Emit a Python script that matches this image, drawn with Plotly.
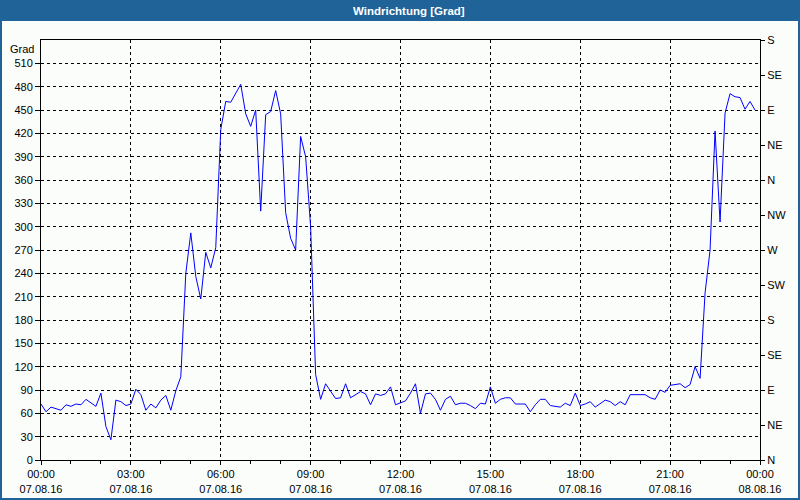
import pandas as pd
import plotly.graph_objects as go

# ---- data (wind direction in degrees, 10-minute samples, 07.08.16) ----
start_time = "2016-08-07 00:00"
end_time = "2016-08-08 00:00"

dir_00_06 = [72, 62, 68, 66, 64, 71, 69, 72, 71, 78, 73, 69, 86, 43, 26, 77, 75, 70,
             72, 91, 84, 64, 72, 67, 77, 83, 64, 89, 107, 240, 292, 236, 207, 267, 247, 273]
dir_06_12 = [425, 461, 460, 471, 483, 445, 429, 450, 320, 444, 448, 475, 445, 318, 285, 270, 416, 390,
             300, 110, 78, 98, 88, 79, 80, 98, 80, 84, 88, 85, 71, 85, 83, 85, 94, 71]
dir_12_18 = [73, 76, 86, 98, 60, 85, 86, 78, 64, 78, 82, 71, 73, 73, 70, 66, 73, 72,
             94, 73, 78, 80, 80, 72, 72, 72, 62, 71, 78, 78, 70, 69, 68, 73, 70, 86]
dir_18_24 = [70, 72, 75, 68, 73, 77, 75, 70, 75, 71, 84, 84, 84, 84, 80, 78, 90, 87,
             96, 97, 98, 93, 97, 120, 105, 215, 270, 423, 306, 446, 471, 467, 466, 451, 461, 450]

values = dir_00_06 + dir_06_12 + dir_12_18 + dir_18_24
times = pd.date_range(start_time, periods=len(values), freq="10min")

left_ticks = [0, 30, 60, 90, 120, 150, 180, 210, 240, 270, 300, 330, 360, 390, 420, 450, 480, 510]
right_ticks = [0, 45, 90, 135, 180, 225, 270, 315, 360, 405, 450, 495, 540]
right_labels = ["N", "NE", "E", "SE", "S", "SW", "W", "NW", "N", "NE", "E", "SE", "S"]
title_text = "Windrichtung [Grad]"
unit_text = "Grad"

# ---- styling ----
BG = "#FBFDFB"
BAR = "#1F6398"
FONT = "Liberation Sans, Arial, sans-serif"
L, R, T, B = 41, 40, 40, 40
W, H = 800, 500
pw, ph = W - L - R, H - T - B

def px_x(p):
    return (p - L) / pw

def px_y(p):
    return (H - B - p) / ph

fig = go.Figure()
fig.add_trace(go.Scatter(x=times, y=values, mode="lines",
                         line=dict(color="#0000FF", width=1),
                         showlegend=False, hoverinfo="skip"))
fig.add_trace(go.Scatter(x=times, y=values, mode="lines", yaxis="y2",
                         line=dict(color="rgba(0,0,0,0)", width=0),
                         showlegend=False, hoverinfo="skip"))

grid = dict(showgrid=True, gridcolor="black", gridwidth=1, griddash="3px,3px")

fig.update_layout(
    width=W, height=H,
    margin=dict(l=L, r=R, t=T, b=B, pad=0, autoexpand=False),
    paper_bgcolor=BG, plot_bgcolor=BG,
    font=dict(family=FONT, size=11, color="black"),
    xaxis=dict(
        type="date", range=[start_time, end_time], automargin=False,
        dtick=3 * 3600 * 1000, tick0=start_time,
        tickformat="%H:%M<br>%d.%m.%y",
        ticks="outside", ticklen=4, tickcolor="black",
        minor=dict(dtick=3600 * 1000, ticks="outside", ticklen=3, tickcolor="black", showgrid=False),
        showline=True, linecolor="black", linewidth=1, mirror=True,
        zeroline=False, **grid,
    ),
    yaxis=dict(
        range=[0, 540], tickvals=left_ticks, automargin=False,
        ticks="outside", ticklen=5, tickcolor="black",
        showline=True, linecolor="black", linewidth=1, mirror=True,
        zeroline=False, **grid,
    ),
    yaxis2=dict(
        range=[0, 540], tickvals=right_ticks, ticktext=right_labels,
        overlaying="y", side="right", automargin=False,
        ticks="outside", ticklen=4, tickcolor="black",
        showline=True, linecolor="black", linewidth=1,
        showgrid=False, zeroline=False,
    ),
    shapes=[
        dict(type="rect", xref="paper", yref="paper",
             x0=px_x(0), x1=px_x(W), y0=px_y(21), y1=px_y(0),
             fillcolor=BAR, line=dict(width=0), layer="below"),
        dict(type="rect", xref="paper", yref="paper",
             x0=px_x(1), x1=px_x(W - 1), y0=px_y(H - 1), y1=px_y(1),
             fillcolor="rgba(0,0,0,0)", line=dict(color=BAR, width=2)),
    ],
    annotations=[
        dict(text="<b>" + title_text + "</b>", xref="paper", yref="paper",
             x=px_x(409), y=px_y(10.5), xanchor="center", yanchor="middle",
             showarrow=False, font=dict(family=FONT, size=11.5, color="white")),
        dict(text=unit_text, xref="paper", yref="paper",
             x=0, y=1, xanchor="right", yanchor="top", xshift=-5, yshift=-1,
             showarrow=False, font=dict(family=FONT, size=11, color="black")),
    ],
)

fig.write_html(
    "out.html",
    config={"displayModeBar": False, "staticPlot": True},
    post_script="document.body.style.margin='0';document.body.style.overflow='hidden';",
)
